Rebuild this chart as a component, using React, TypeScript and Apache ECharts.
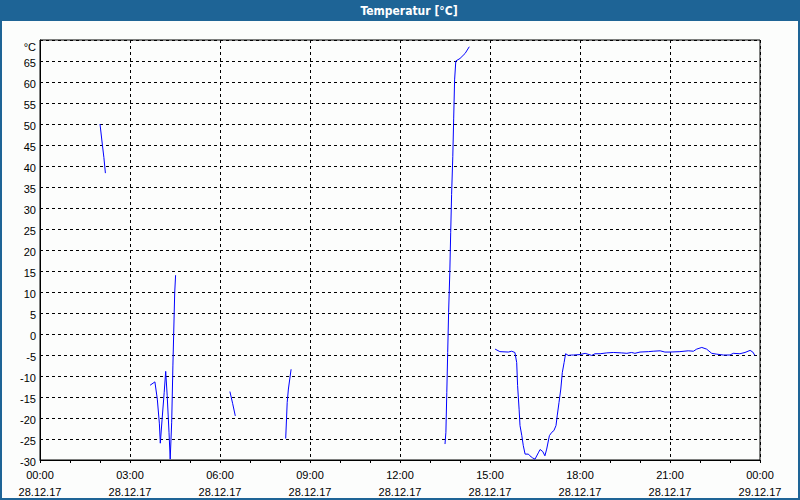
import React, { useEffect, useRef } from "react";
import * as echarts from "echarts";

// hours since 28.12.17 00:00, temperature in °C
const seg1T = [2.0, 2.08, 2.13, 2.18];
const seg1V = [50, 45, 42, 38.3];
const seg2T = [3.67, 3.83, 3.91, 3.98, 4.01, 4.07, 4.14, 4.19, 4.24, 4.3, 4.34, 4.39, 4.43, 4.49, 4.52];
const seg2V = [-12.2, -11.4, -15.5, -21.4, -26.0, -20.3, -13.9, -8.9, -14.7, -23.4, -29.8, -21.0, -7.6, 9.8, 14.0];
const seg3T = [6.33, 6.42, 6.51];
const seg3V = [-13.7, -16.5, -19.5];
const seg4T = [8.19, 8.24, 8.28, 8.37];
const seg4V = [-24.9, -16.3, -13.1, -8.4];
const seg5T = [13.5, 13.53, 13.56, 13.59, 13.62, 13.66, 13.69, 13.72, 13.76, 13.79, 13.82, 13.86, 14.0, 14.17, 14.31];
const seg5V = [-26.2, -23.4, -13.9, -4.4, 5.1, 14.6, 24.1, 33.2, 42.3, 51.4, 60.5, 65.0, 65.6, 66.8, 68.4];
const seg6T = [
  15.17, 15.33, 15.61, 15.72, 15.83, 15.89, 15.92, 15.97, 16.0, 16.06, 16.11, 16.17, 16.28, 16.33, 16.42, 16.5,
  16.61, 16.67, 16.76, 16.83, 16.89, 16.98, 17.06, 17.13, 17.2, 17.24, 17.3, 17.36, 17.41, 17.47, 17.52, 17.61,
  17.72, 17.78, 18.0, 18.17, 18.39, 18.5, 18.67, 18.89, 19.11, 19.39, 19.56, 19.72, 19.83, 20.0, 20.28, 20.44,
  20.67, 20.83, 21.0, 21.33, 21.61, 21.78, 21.89, 22.06, 22.22, 22.39, 22.56, 22.78, 23.0, 23.11, 23.33, 23.5,
  23.67, 23.76, 23.83,
];
const seg6V = [
  -3.6, -4.2, -4.3, -4.1, -4.4, -6.8, -12.3, -17.9, -21.8, -24.2, -26.6, -28.6, -28.6, -29.0, -29.5, -29.8,
  -28.3, -27.5, -28.0, -29.0, -27.4, -24.2, -23.4, -23.0, -21.8, -19.5, -16.3, -13.1, -9.2, -6.8, -4.7, -5.1,
  -5.0, -5.0, -4.9, -4.6, -5.1, -4.7, -4.7, -4.5, -4.4, -4.5, -4.6, -4.4, -4.6, -4.3, -4.2, -4.1,
  -4.0, -4.3, -4.3, -4.2, -4.0, -4.1, -3.6, -3.2, -3.6, -4.6, -4.8, -5.0, -5.0, -4.6, -4.7, -4.4,
  -3.9, -4.3, -5.1,
];

const segmentsT = [seg1T, seg2T, seg3T, seg4T, seg5T, seg6T];
const segmentsV = [seg1V, seg2V, seg3V, seg4V, seg5V, seg6V];

const xTickHours = [0, 3, 6, 9, 12, 15, 18, 21, 24];
const xTimeLabels = ["00:00", "03:00", "06:00", "09:00", "12:00", "15:00", "18:00", "21:00", "00:00"];
const xDateLabels = ["28.12.17", "28.12.17", "28.12.17", "28.12.17", "28.12.17", "28.12.17", "28.12.17", "28.12.17", "29.12.17"];

const titleText = "Temperatur [°C]";
const unitLabel = "°C";

const FONT = "'Liberation Sans', Arial, sans-serif";
const TITLE_FONT = "'Liberation Sans Narrow', 'DejaVu Sans Condensed', 'Liberation Sans', sans-serif";
const BLUE = "#1e6496";

export default function App() {
  const ref = useRef<HTMLDivElement>(null);
  useEffect(() => {
    if (!ref.current) return;
    const chart = echarts.init(ref.current, null, { renderer: "svg" });
    const data: any[] = [];
    segmentsT.forEach((ts, si) => {
      if (si > 0) data.push([null, null]);
      ts.forEach((t, i) => data.push([t, segmentsV[si][i]]));
    });
    chart.setOption({
      animation: false,
      backgroundColor: "#fcfdfc",
      grid: { left: 40, right: 40, top: 40, bottom: 39, show: true, borderColor: "#000", borderWidth: 1, backgroundColor: "transparent" },
      xAxis: {
        type: "value",
        min: 0,
        max: 24,
        interval: 3,
        axisLine: { show: true, onZero: false, lineStyle: { color: "#000", width: 1 } },
        axisTick: { show: true, length: 3, lineStyle: { color: "#000" } },
        minorTick: { show: true, splitNumber: 3, length: 3, lineStyle: { color: "#000" } },
        splitLine: { show: true, lineStyle: { color: "#000", type: [3, 3], width: 1 } },
        axisLabel: {
          color: "#000",
          fontFamily: FONT,
          fontSize: 11,
          lineHeight: 17,
          margin: 6,
          showMinLabel: true,
          showMaxLabel: true,
          formatter: (v: number) => {
            const i = xTickHours.indexOf(Math.round(v));
            return i >= 0 ? `${xTimeLabels[i]}\n${xDateLabels[i]}` : "";
          },
        },
      },
      yAxis: {
        type: "value",
        min: -30,
        max: 70,
        interval: 5,
        axisLine: { show: true, onZero: false, lineStyle: { color: "#000", width: 1 } },
        axisTick: { show: false },
        splitLine: { show: true, lineStyle: { color: "#000", type: [3, 3], width: 1 } },
        axisLabel: {
          color: "#000",
          fontFamily: FONT,
          fontSize: 11,
          margin: 4,
          verticalAlign: "middle",
          padding: [3, 0, 0, 0],
          showMinLabel: true,
          showMaxLabel: true,
          formatter: (v: number) => (v === 70 ? "{u|" + unitLabel + "}" : String(v)),
          rich: { u: { fontFamily: FONT, fontSize: 11, color: "#000", padding: [11, 0, 0, 0] } },
        },
      },
      series: [
        {
          type: "line",
          data,
          showSymbol: false,
          connectNulls: false,
          lineStyle: { color: "#0000ff", width: 1 },
          itemStyle: { color: "#0000ff" },
        },
      ],
      graphic: [
        { type: "rect", shape: { x: 0, y: 0, width: 800, height: 21 }, style: { fill: BLUE } },
        {
          type: "text",
          x: 409,
          y: 10.5,
          style: { text: titleText, fill: "#fff", font: `bold 12px ${TITLE_FONT}`, align: "center", verticalAlign: "middle" },
        },
        { type: "rect", shape: { x: 1, y: 1, width: 798, height: 498 }, style: { fill: "none", stroke: BLUE, lineWidth: 2 } },
      ],
    });
    return () => chart.dispose();
  }, []);
  return <div ref={ref} style={{ position: "fixed", left: 0, top: 0, width: 800, height: 500 }} />;
}
